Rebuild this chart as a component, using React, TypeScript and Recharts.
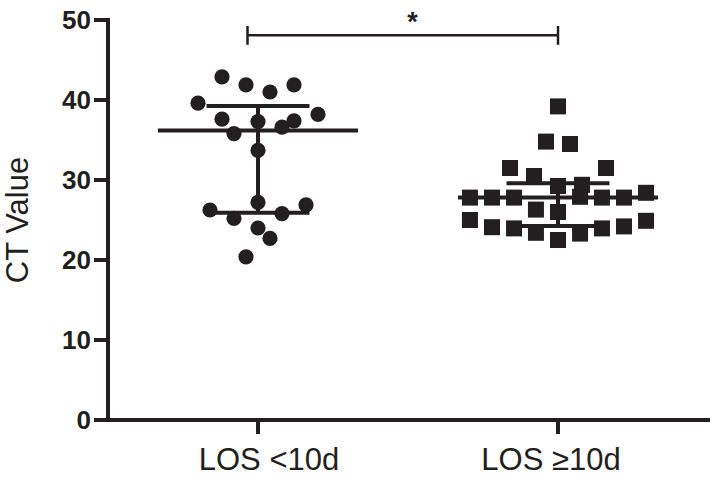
import React from 'react';
import {
  ScatterChart,
  Scatter,
  XAxis,
  YAxis,
  ReferenceLine,
  ReferenceDot,
} from 'recharts';

// ---- data ----
const categories = ['LOS <10d', 'LOS \u226510d'];
const groupPositions = [1, 3];
const yTicks = [0, 10, 20, 30, 40, 50];

const shortStayValues = [
  42.9, 41.9, 41.0, 41.9, 39.6, 38.2, 37.6, 37.3, 37.4, 36.6,
  35.8, 33.7, 27.2, 26.25, 26.9, 25.2, 25.8, 24.0, 22.7, 20.4,
];
const shortStayJitter = [
  -0.24, -0.08, 0.08, 0.24, -0.4, 0.4, -0.24, 0, 0.24, 0.16,
  -0.16, 0, 0, -0.32, 0.32, -0.16, 0.16, 0, 0.08, -0.08,
];

const longStayValues = [
  39.2, 34.8, 34.5, 31.5, 31.5, 30.5, 29.25, 29.4, 27.8, 27.8,
  27.8, 27.9, 27.8, 27.8, 28.4, 26.3, 26.0, 25.0, 24.9, 24.1,
  23.95, 23.4, 22.5, 23.3, 23.95, 24.2,
];
const longStayJitter = [
  0, -0.08, 0.08, -0.32, 0.32, -0.16, 0, 0.16, -0.587, -0.44,
  -0.293, 0.147, 0.293, 0.44, 0.587, -0.147, 0, -0.587, 0.587, -0.44,
  -0.293, -0.147, 0, 0.147, 0.293, 0.44,
];

const medians = [36.2, 27.8];
const q1Values = [25.9, 24.25];
const q3Values = [39.25, 29.6];

const sigLeft = 0.93;
const sigRight = 3.0;
const sigY = 48.1;
const sigTickLow = 46.9;
const sigTickHigh = 49.25;
const sigLabelX = 2.03;
const sigLabel = '*';

// ---- derived ----
const shortStayData = shortStayValues.map((v, i) => ({
  x: groupPositions[0] + shortStayJitter[i],
  y: v,
}));
const longStayData = longStayValues.map((v, i) => ({
  x: groupPositions[1] + longStayJitter[i],
  y: v,
}));

const INK = '#231f20';
const FONT = '"Liberation Sans", Arial, Helvetica, sans-serif';
const MEDIAN_HALF = 0.667;
const IQR_HALF = 0.343;
const X_LABEL_SHIFT = [11, -7];

const CircleShape = (props: any) => (
  <circle cx={props.cx} cy={props.cy} r={7.6} fill={INK} />
);
const SquareShape = (props: any) => (
  <rect x={props.cx - 8} y={props.cy - 8} width={16} height={16} fill={INK} />
);

const XTick = (props: any) => {
  const { x, y, payload } = props;
  const idx = groupPositions.indexOf(payload.value);
  const label = categories[idx] ?? '';
  return (
    <text
      x={x + (X_LABEL_SHIFT[idx] ?? 0)}
      y={y}
      dy="0.71em"
      textAnchor="middle"
      fill={INK}
      fontSize={31}
      fontFamily={FONT}
    >
      {label}
    </text>
  );
};

const YLabel = (props: any) => {
  const vb = props.viewBox || {};
  const cy = (vb.y ?? 20) + (vb.height ?? 400) / 2;
  const x = 28;
  return (
    <text
      x={x}
      y={cy}
      transform={`rotate(-90, ${x}, ${cy})`}
      textAnchor="middle"
      fill={INK}
      fontSize={31}
      fontFamily={FONT}
    >
      CT Value
    </text>
  );
};

export default function App() {
  return (
    <div style={{ position: 'absolute', left: 0, top: 0, background: '#fff' }}>
      <ScatterChart
        width={720}
        height={478}
        margin={{ top: 20, right: 12, left: 0, bottom: 0 }}
      >
        <XAxis
          type="number"
          dataKey="x"
          domain={[0, 4]}
          ticks={groupPositions}
          height={58}
          axisLine={{ stroke: INK, strokeWidth: 4, strokeLinecap: 'square' }}
          tickLine={{ stroke: INK, strokeWidth: 4 }}
          tickSize={14}
          tickMargin={14}
          tick={<XTick />}
          interval={0}
          allowDataOverflow
        />
        <YAxis
          type="number"
          dataKey="y"
          domain={[0, 50]}
          ticks={yTicks}
          width={108}
          axisLine={{ stroke: INK, strokeWidth: 4, strokeLinecap: 'square' }}
          tickLine={{ stroke: INK, strokeWidth: 4 }}
          tickSize={14}
          tickMargin={3}
          tick={{ fill: INK, fontSize: 26, fontWeight: 'bold', fontFamily: FONT }}
          interval={0}
          allowDataOverflow
          label={<YLabel />}
        />

        {groupPositions.map((g, i) => (
          <ReferenceLine
            key={`med-${i}`}
            segment={[
              { x: g - MEDIAN_HALF, y: medians[i] },
              { x: g + MEDIAN_HALF, y: medians[i] },
            ]}
            stroke={INK}
            strokeWidth={4}
          />
        ))}
        {groupPositions.map((g, i) => (
          <ReferenceLine
            key={`q3-${i}`}
            segment={[
              { x: g - IQR_HALF, y: q3Values[i] },
              { x: g + IQR_HALF, y: q3Values[i] },
            ]}
            stroke={INK}
            strokeWidth={4}
          />
        ))}
        {groupPositions.map((g, i) => (
          <ReferenceLine
            key={`q1-${i}`}
            segment={[
              { x: g - IQR_HALF, y: q1Values[i] },
              { x: g + IQR_HALF, y: q1Values[i] },
            ]}
            stroke={INK}
            strokeWidth={4}
          />
        ))}
        {groupPositions.map((g, i) => (
          <ReferenceLine
            key={`iqr-${i}`}
            segment={[
              { x: g, y: q1Values[i] },
              { x: g, y: q3Values[i] },
            ]}
            stroke={INK}
            strokeWidth={4}
          />
        ))}

        <Scatter
          name={categories[0]}
          data={shortStayData}
          shape={CircleShape}
          isAnimationActive={false}
        />
        <Scatter
          name={categories[1]}
          data={longStayData}
          shape={SquareShape}
          isAnimationActive={false}
        />

        <ReferenceLine
          segment={[
            { x: sigLeft, y: sigY },
            { x: sigRight, y: sigY },
          ]}
          stroke={INK}
          strokeWidth={2.5}
        />
        <ReferenceLine
          segment={[
            { x: sigLeft, y: sigTickLow },
            { x: sigLeft, y: sigTickHigh },
          ]}
          stroke={INK}
          strokeWidth={2.5}
        />
        <ReferenceLine
          segment={[
            { x: sigRight, y: sigTickLow },
            { x: sigRight, y: sigTickHigh },
          ]}
          stroke={INK}
          strokeWidth={2.5}
        />
        <ReferenceDot
          x={sigLabelX}
          y={sigY}
          r={0}
          shape={(p: any) => (
            <text
              x={p.cx}
              y={p.cy - 4}
              textAnchor="middle"
              fill={INK}
              fontSize={27}
              fontWeight="bold"
              fontFamily={FONT}
            >
              {sigLabel}
            </text>
          )}
        />
      </ScatterChart>
    </div>
  );
}
